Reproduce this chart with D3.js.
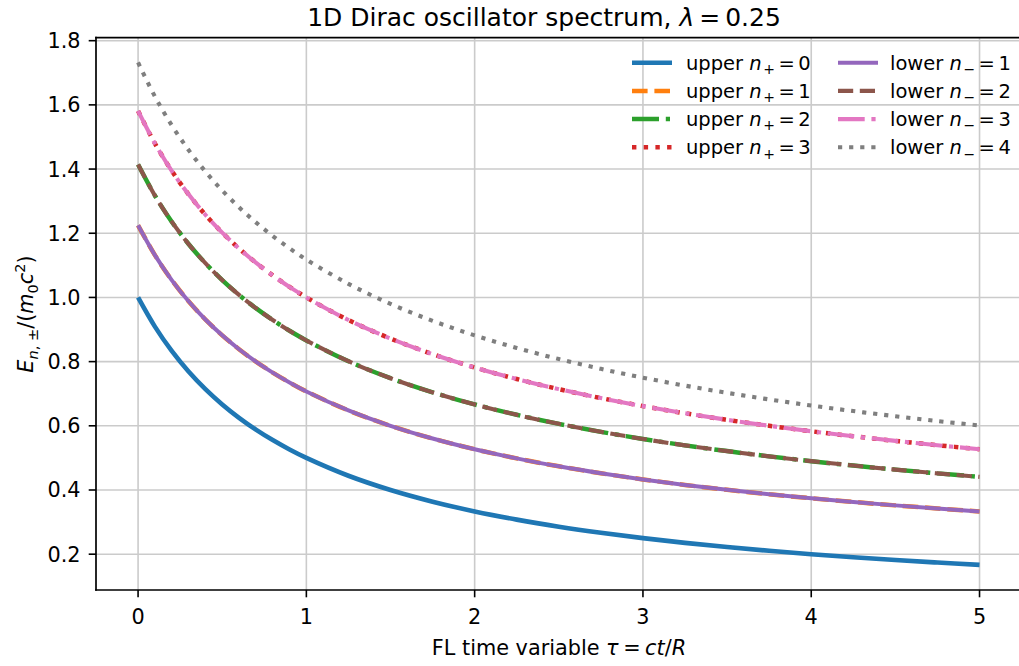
<!DOCTYPE html>
<html><head><meta charset="utf-8">
<script src="https://cdn.jsdelivr.net/npm/d3@7"></script>
<style>
html,body{margin:0;padding:0;background:#fff;}
svg{display:block;font-family:"DejaVu Sans",sans-serif;}
</style></head>
<body>
<svg id="chart" width="1019" height="666"></svg>
<script>
// ---- data ----
const tau = [0,0.1,0.2,0.3,0.4,0.5,0.6,0.7,0.8,0.9,1,1.25,1.5,1.75,2,2.25,2.5,2.75,3,3.25,3.5,3.75,4,4.25,4.5,4.75,5];
const E_n0 = [1.0,0.9091,0.8333,0.7692,0.7143,0.6667,0.625,0.5882,0.5556,0.5263,0.5,0.4444,0.4,0.3636,0.3333,0.3077,0.2857,0.2667,0.25,0.2353,0.2222,0.2105,0.2,0.1905,0.1818,0.1739,0.1667];
const E_n1 = [1.2247,1.1318,1.0541,0.9881,0.9313,0.8819,0.8385,0.8001,0.7658,0.735,0.7071,0.6479,0.6,0.5604,0.527,0.4985,0.4738,0.4522,0.433,0.4159,0.4006,0.3868,0.3742,0.3627,0.3521,0.3423,0.3333];
const E_n2 = [1.4142,1.3174,1.236,1.1666,1.1066,1.0541,1.0078,0.9666,0.9296,0.8963,0.866,0.8012,0.7483,0.7042,0.6667,0.6343,0.6061,0.5812,0.559,0.5391,0.5212,0.5048,0.4899,0.4762,0.4635,0.4518,0.441];
const E_n3 = [1.5811,1.4799,1.3944,1.3212,1.2576,1.2019,1.1524,1.1083,1.0686,1.0327,1.0,0.9296,0.8718,0.8232,0.7817,0.7458,0.7143,0.6864,0.6614,0.639,0.6186,0.6001,0.5831,0.5675,0.553,0.5395,0.527];
const E_n4 = [1.7321,1.6262,1.5366,1.4595,1.3924,1.3333,1.2809,1.2339,1.1915,1.1531,1.118,1.0423,0.9798,0.9271,0.8819,0.8426,0.8081,0.7775,0.75,0.7252,0.7027,0.6822,0.6633,0.6459,0.6298,0.6149,0.6009];
const branches = ["upper","upper","upper","upper","lower","lower","lower","lower"];
const levels = [0,1,2,3,1,2,3,4];
const values = [E_n0,E_n1,E_n2,E_n3,E_n1,E_n2,E_n3,E_n4];
const xTicks = [0,1,2,3,4,5];
const yTicks = [0.2,0.4,0.6,0.8,1.0,1.2,1.4,1.6,1.8];
const titleText = "1D Dirac oscillator spectrum, ";

// ---- styles ----
const colors = ["#1f77b4","#ff7f0e","#2ca02c","#d62728","#9467bd","#8c564b","#e377c2","#7f7f7f"];
const dashes = ["none","15.6,6.8","27,6.8,4.2,6.8","4.4,7.3","none","15.2,6.6","26.7,6.7,4.2,6.7","4.2,6.9"];
const widths = [4.6,4.5,4.5,4.5,4.0,4.1,4.1,4.1];

const svg = d3.select("#chart");
const L = 96, R = 1021.6, T = 37.7, B = 590;
const x = d3.scaleLinear().domain([-0.25,5.25]).range([L,R]);
const y = d3.scaleLinear().domain([0.0884,1.8093]).range([B,T]);

// grid
const g = svg.append("g");
g.selectAll("line.vg").data(xTicks).join("line")
  .attr("x1",d=>x(d)).attr("x2",d=>x(d)).attr("y1",T).attr("y2",B)
  .attr("stroke","#cbcbcb").attr("stroke-width",1.6);
g.selectAll("line.hg").data(yTicks).join("line")
  .attr("x1",L).attr("x2",R).attr("y1",d=>y(d)).attr("y2",d=>y(d))
  .attr("stroke","#cbcbcb").attr("stroke-width",1.6);

// lines
const line = d3.line().curve(d3.curveCatmullRom.alpha(0.5));
const plot = svg.append("g");
values.forEach((vals,i)=>{
  const pts = tau.map((t,k)=>[x(t),y(vals[k])]);
  plot.append("path").attr("d",line(pts)).attr("fill","none")
    .attr("stroke",colors[i]).attr("stroke-width",widths[i])
    .attr("stroke-dasharray",dashes[i]).attr("stroke-linecap","butt");
});

// spines
svg.append("line").attr("x1",L).attr("x2",L).attr("y1",T).attr("y2",B).attr("stroke","#000").attr("stroke-width",1.7).attr("stroke-linecap","square");
svg.append("line").attr("x1",L).attr("x2",R).attr("y1",B).attr("y2",B).attr("stroke","#000").attr("stroke-width",1.7).attr("stroke-linecap","square");
svg.append("line").attr("x1",L).attr("x2",R).attr("y1",T).attr("y2",T).attr("stroke","#000").attr("stroke-width",1.7).attr("stroke-linecap","square");

// ticks
const fs = 20.8;
svg.selectAll("line.xt").data(xTicks).join("line")
  .attr("x1",d=>x(d)).attr("x2",d=>x(d)).attr("y1",B).attr("y2",B+7.3)
  .attr("stroke","#000").attr("stroke-width",1.6);
svg.selectAll("text.xt").data(xTicks).join("text")
  .attr("x",d=>x(d)).attr("y",623.5).attr("text-anchor","middle")
  .attr("font-size",fs).attr("fill","#000").text(d=>d3.format("d")(d));
svg.selectAll("line.yt").data(yTicks).join("line")
  .attr("x1",L-7.3).attr("x2",L).attr("y1",d=>y(d)).attr("y2",d=>y(d))
  .attr("stroke","#000").attr("stroke-width",1.6);
svg.selectAll("text.yt").data(yTicks).join("text")
  .attr("x",L-15.5).attr("y",d=>y(d)).attr("dy","0.36em").attr("text-anchor","end")
  .attr("font-size",fs).attr("fill","#000").text(d=>d3.format(".1f")(d));

// title
const title = svg.append("text").attr("x",544).attr("y",25.5).attr("text-anchor","middle")
  .attr("font-size",25).attr("fill","#000");
title.append("tspan").text(titleText);
title.append("tspan").attr("font-style","italic").text("λ");
title.append("tspan").attr("dx",5).text("=");
title.append("tspan").attr("dx",5).text("0.25");

// x label
const xl = svg.append("text").attr("x",559).attr("y",655).attr("text-anchor","middle")
  .attr("font-size",fs).attr("fill","#000");
xl.append("tspan").text("FL time variable ");
xl.append("tspan").attr("font-style","italic").text("τ");
xl.append("tspan").attr("dx",4.5).text("=");
xl.append("tspan").attr("dx",4.5).attr("font-style","italic").text("ct");
xl.append("tspan").text("/");
xl.append("tspan").attr("font-style","italic").text("R");

// y label
const yl = svg.append("text").attr("transform","translate(33,314) rotate(-90)")
  .attr("text-anchor","middle").attr("font-size",fs).attr("fill","#000");
yl.append("tspan").attr("font-style","italic").text("E");
yl.append("tspan").attr("font-size",fs*0.7).attr("dy",4.5).attr("font-style","italic").text("n");
yl.append("tspan").attr("font-size",fs*0.7).text(", ±");
yl.append("tspan").attr("dy",-4.5).text("/(");
yl.append("tspan").attr("font-style","italic").text("m");
yl.append("tspan").attr("font-size",fs*0.7).attr("dy",4.5).text("0");
yl.append("tspan").attr("font-style","italic").attr("dy",-4.5).text("c");
yl.append("tspan").attr("font-size",fs*0.7).attr("dy",-8).text("2");
yl.append("tspan").attr("dy",8).text(")");

// legend (no frame)
const legX = [632,838], legTextX = [686,890], legY0 = 62.7, legDY = 28.2;
const leg = svg.append("g");
values.forEach((vals,i)=>{
  const col = i<4?0:1, row = i%4;
  const cy = legY0 + row*legDY;
  leg.append("line").attr("x1",legX[col]).attr("x2",legX[col]+40).attr("y1",cy).attr("y2",cy)
    .attr("stroke",colors[i]).attr("stroke-width",widths[i]).attr("stroke-dasharray",dashes[i]);
  const t = leg.append("text").attr("x",legTextX[col]).attr("y",cy+6.8)
    .attr("font-size",19.5).attr("fill","#000");
  t.append("tspan").text(branches[i]+" ");
  t.append("tspan").attr("font-style","italic").text("n");
  t.append("tspan").attr("font-size",14).attr("dy",4.5).attr("dx",1.5).text(branches[i]==="upper"?"+":"−");
  t.append("tspan").attr("dy",-4.5).attr("dx",3.5).text("=");
  t.append("tspan").attr("dx",3.5).text(levels[i]);
});
</script>
</body></html>
